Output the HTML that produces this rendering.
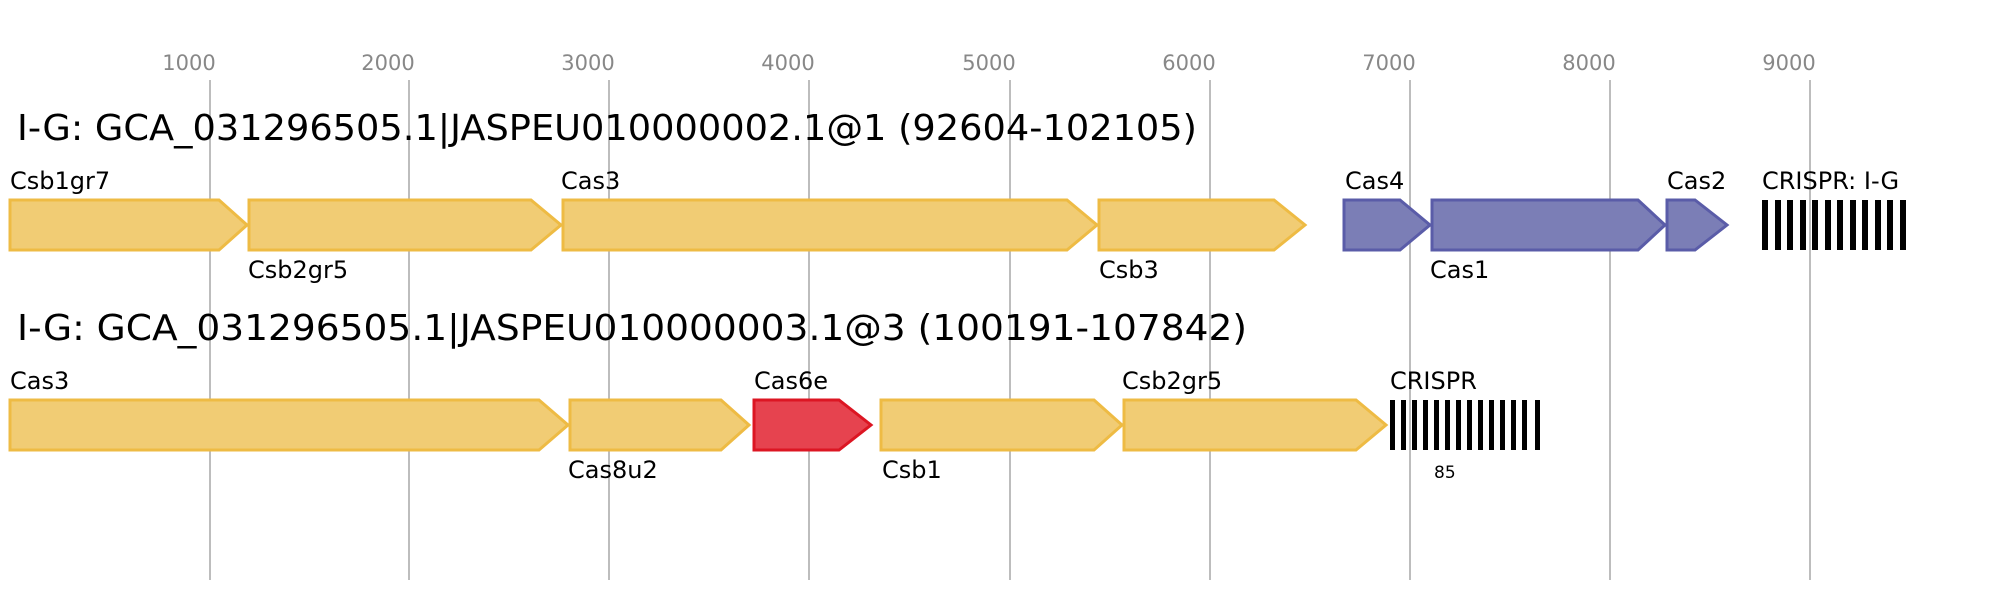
<!DOCTYPE html>
<html><head><meta charset="utf-8"><style>html,body{margin:0;padding:0;background:#fff}svg{display:block}</style></head>
<body>
<svg width="2000" height="600" xmlns="http://www.w3.org/2000/svg" font-family="DejaVu Sans, Liberation Sans, sans-serif">
<g stroke="#bdbdbd" stroke-width="2">
<line x1="210" y1="80" x2="210" y2="580"/><line x1="409" y1="80" x2="409" y2="580"/><line x1="609" y1="80" x2="609" y2="580"/><line x1="809" y1="80" x2="809" y2="580"/><line x1="1010" y1="80" x2="1010" y2="580"/><line x1="1210" y1="80" x2="1210" y2="580"/><line x1="1410" y1="80" x2="1410" y2="580"/><line x1="1610" y1="80" x2="1610" y2="580"/><line x1="1810" y1="80" x2="1810" y2="580"/>
</g>
<g fill="#888" font-size="21" text-anchor="middle">
<text x="189" y="70">1000</text><text x="388" y="70">2000</text><text x="588" y="70">3000</text><text x="788" y="70">4000</text><text x="989" y="70">5000</text><text x="1189" y="70">6000</text><text x="1389" y="70">7000</text><text x="1589" y="70">8000</text><text x="1789" y="70">9000</text>
</g>
<text x="17" y="140" font-size="36" textLength="1180" lengthAdjust="spacingAndGlyphs">I-G: GCA_031296505.1|JASPEU010000002.1@1 (92604-102105)</text>
<text x="17" y="340" font-size="36" textLength="1230" lengthAdjust="spacingAndGlyphs">I-G: GCA_031296505.1|JASPEU010000003.1@3 (100191-107842)</text>
<g stroke-width="3">
<g fill="#f1cc74" stroke="#eebb44">
<polygon points="10,200 219,200 247,225 219,250 10,250"/>
<polygon points="249,200 531,200 561,225 531,250 249,250"/>
<polygon points="563,200 1067,200 1097,225 1067,250 563,250"/>
<polygon points="1099,200 1274,200 1305,225 1274,250 1099,250"/>
<polygon points="10,400 539,400 568,425 539,450 10,450"/>
<polygon points="570,400 721,400 749,425 721,450 570,450"/>
<polygon points="881,400 1094,400 1122,425 1094,450 881,450"/>
<polygon points="1124,400 1356,400 1386,425 1356,450 1124,450"/>
</g>
<g fill="#7b7eb6" stroke="#5a5ca8">
<polygon points="1344,200 1400,200 1430,225 1400,250 1344,250"/>
<polygon points="1432,200 1638,200 1665,225 1638,250 1432,250"/>
<polygon points="1667,200 1695,200 1727,225 1695,250 1667,250"/>
</g>
<polygon fill="#e6434f" stroke="#dc1623" points="754,400 839,400 871,425 839,450 754,450"/>
</g>
<g fill="#000">
<rect x="1762" y="200" width="6" height="50"/><rect x="1775" y="200" width="6" height="50"/><rect x="1787" y="200" width="6" height="50"/><rect x="1800" y="200" width="6" height="50"/><rect x="1812" y="200" width="6" height="50"/><rect x="1825" y="200" width="6" height="50"/><rect x="1837" y="200" width="6" height="50"/><rect x="1850" y="200" width="6" height="50"/><rect x="1862" y="200" width="6" height="50"/><rect x="1875" y="200" width="6" height="50"/><rect x="1887" y="200" width="6" height="50"/><rect x="1900" y="200" width="6" height="50"/>
<rect x="1390" y="400" width="5" height="50"/><rect x="1401" y="400" width="5" height="50"/><rect x="1412" y="400" width="5" height="50"/><rect x="1423" y="400" width="5" height="50"/><rect x="1434" y="400" width="5" height="50"/><rect x="1445" y="400" width="5" height="50"/><rect x="1456" y="400" width="5" height="50"/><rect x="1467" y="400" width="5" height="50"/><rect x="1478" y="400" width="5" height="50"/><rect x="1489" y="400" width="5" height="50"/><rect x="1500" y="400" width="5" height="50"/><rect x="1511" y="400" width="5" height="50"/><rect x="1522" y="400" width="5" height="50"/><rect x="1535" y="400" width="5" height="50"/>
</g>
<g font-size="24" fill="#000">
<text x="10" y="189">Csb1gr7</text><text x="248" y="278">Csb2gr5</text><text x="561" y="189">Cas3</text><text x="1099" y="278">Csb3</text><text x="1345" y="189">Cas4</text><text x="1430" y="278">Cas1</text><text x="1667" y="189">Cas2</text><text x="1762" y="189">CRISPR: I-G</text>
<text x="10" y="389">Cas3</text><text x="568" y="478">Cas8u2</text><text x="754" y="389">Cas6e</text><text x="882" y="478">Csb1</text><text x="1122" y="389">Csb2gr5</text><text x="1390" y="389">CRISPR</text>
<text x="1434" y="478" font-size="17">85</text>
</g>
</svg>
</body></html>
